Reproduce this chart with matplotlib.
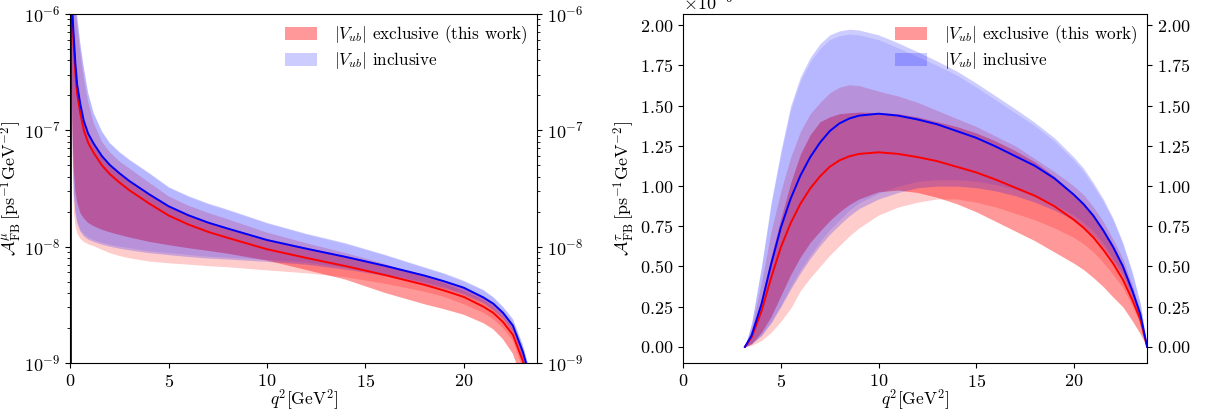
import numpy as np
import matplotlib
matplotlib.use("Agg")
import matplotlib.pyplot as plt

plt.rcParams.update({
    "font.family": "serif",
    "font.serif": ["cmr10"],
    "mathtext.fontset": "cm",
    "axes.formatter.use_mathtext": True,
    "font.size": 13,
    "axes.unicode_minus": True,
})

# ---------------- muon channel (values in 1e-9 ps^-1 GeV^-2) ----------------
q2_mu = [0.0112, 0.02, 0.05, 0.085, 0.12, 0.17, 0.25, 0.34, 0.5, 0.68, 0.9, 1.18,
         1.6, 2.0, 2.5, 3.0, 4.0, 5.0, 6.0, 7.0, 8.0, 10.0, 12.0, 14.0, 16.0, 18.0,
         19.0, 20.0, 21.0, 21.5, 22.0, 22.5, 23.0, 23.3, 23.6, 23.75]
mu_excl = [0, 4000, 2200, 1000, 720, 520, 310, 205, 140, 100, 78, 64, 50, 42, 35.5,
           30.5, 23.5, 18.5, 15.5, 13.4, 11.9, 9.5, 8.0, 6.8, 5.7, 4.7, 4.2, 3.7,
           3.05, 2.7, 2.25, 1.75, 1.05, 0.7, 0.3, 0]
mu_incl = [0, 4800, 2640, 1200, 864, 624, 372, 246, 168, 120, 93.6, 76.8, 60, 50.4,
           42.6, 36.6, 28.2, 22.2, 18.6, 16.1, 14.3, 11.4, 9.6, 8.16, 6.84, 5.64,
           5.04, 4.44, 3.66, 3.24, 2.7, 2.1, 1.26, 0.84, 0.36, 0]
mu_exA_hi = [0, 4900, 2700, 1220, 880, 635, 378, 250, 171, 122, 95, 78, 61, 51, 43.3,
             37.2, 28.7, 22.6, 18.9, 16.3, 14.5, 11.6, 9.8, 8.3, 6.95, 5.75, 5.1, 4.5,
             3.7, 3.3, 2.75, 2.13, 1.28, 0.85, 0.37, 0]
mu_exA_lo = [0, 3000, 500, 150, 80, 45, 30, 24, 19.5, 17.5, 16, 15, 14, 13.3, 12.6,
             12.0, 11.0, 10.3, 9.7, 9.2, 8.7, 7.6, 6.3, 5.2, 4.0, 3.2, 2.9, 2.6, 2.2,
             1.95, 1.6, 1.2, 0.7, 0.45, 0.18, 0]
mu_exB_hi = [0, 6600, 4100, 2480, 1820, 1320, 1100, 800, 470, 285, 175, 116, 80, 65,
             54, 47, 35.5, 27, 22.5, 19.5, 17.2, 13.2, 10.7, 8.8, 7.1, 5.5, 4.85, 4.15,
             3.45, 3.0, 2.5, 1.95, 1.2, 0.78, 0.35, 0]
mu_exB_lo = [0, 2000, 300, 90, 45, 20, 15, 13, 11.7, 11.0, 10.5, 10.1, 9.4, 8.8, 8.3,
             7.95, 7.45, 7.2, 7.0, 6.8, 6.65, 6.25, 5.9, 5.45, 4.8, 4.1, 3.7, 3.2, 2.7,
             2.38, 2.0, 1.55, 0.9, 0.6, 0.26, 0]
mu_inA_hi = [0, 8000, 5000, 3000, 2200, 1600, 1330, 960, 560, 345, 210, 141, 98, 78,
             65, 56, 43, 32.5, 27.2, 23.5, 20.8, 16.0, 12.9, 10.7, 8.5, 6.65, 5.9, 5.1,
             4.25, 3.7, 3.05, 2.4, 1.45, 0.95, 0.42, 0]
mu_inA_lo = [0, 2500, 400, 120, 60, 28, 19.5, 16, 13.5, 12.3, 11.5, 11.0, 10.4, 10.0,
             9.6, 9.3, 8.8, 8.45, 8.15, 7.9, 7.75, 7.4, 7.0, 6.35, 5.6, 4.75, 4.35, 3.85,
             3.25, 2.85, 2.4, 1.85, 1.1, 0.74, 0.32, 0]
mu_inB_hi = [0, 7900, 4900, 2950, 2170, 1580, 1310, 945, 550, 340, 207, 139, 96.5, 77,
             64, 55, 42.4, 32, 26.8, 23.1, 20.5, 15.8, 12.7, 10.5, 8.4, 6.55, 5.8, 5.0,
             4.2, 3.65, 3.0, 2.35, 1.43, 0.94, 0.41, 0]
mu_inB_lo = [0, 2600, 420, 125, 63, 29, 20.3, 16.6, 14.0, 12.8, 12.0, 11.4, 10.8, 10.4,
             10.0, 9.7, 9.15, 8.8, 8.5, 8.2, 8.05, 7.7, 7.3, 6.6, 5.8, 4.95, 4.5, 4.0,
             3.4, 2.95, 2.5, 1.9, 1.15, 0.77, 0.33, 0]

# ---------------- tau channel (values in 1e-6 ps^-1 GeV^-2) -----------------
q2_tau = [3.157, 3.5, 4.0, 4.5, 5.0, 5.5, 6.0, 6.5, 7.0, 7.5, 8.0, 8.5, 9.0, 10.0,
          11.0, 12.0, 13.0, 14.0, 15.0, 16.0, 17.0, 18.0, 19.0, 20.0, 20.5, 21.0,
          21.5, 22.0, 22.5, 23.0, 23.4, 23.75]
tau_excl = [0, 0.06, 0.22, 0.43, 0.62, 0.77, 0.89, 0.985, 1.06, 1.12, 1.16, 1.185,
            1.20, 1.21, 1.20, 1.18, 1.155, 1.12, 1.085, 1.04, 0.99, 0.94, 0.875, 0.79,
            0.74, 0.68, 0.605, 0.52, 0.42, 0.29, 0.17, 0]
tau_incl = [0, 0.072, 0.264, 0.515, 0.743, 0.922, 1.066, 1.18, 1.27, 1.342, 1.39, 1.42,
            1.438, 1.45, 1.438, 1.414, 1.384, 1.342, 1.30, 1.246, 1.186, 1.126, 1.048,
            0.946, 0.887, 0.815, 0.725, 0.623, 0.503, 0.347, 0.204, 0]
tau_exA_hi = [0, 0.08, 0.30, 0.56, 0.80, 1.02, 1.20, 1.32, 1.40, 1.43, 1.45, 1.456,
              1.46, 1.457, 1.45, 1.43, 1.40, 1.37, 1.33, 1.28, 1.22, 1.15, 1.06, 0.95,
              0.89, 0.82, 0.73, 0.63, 0.51, 0.35, 0.20, 0]
tau_exA_lo = [0, 0.02, 0.09, 0.19, 0.32, 0.45, 0.56, 0.65, 0.72, 0.785, 0.84, 0.885,
              0.92, 0.965, 0.975, 0.96, 0.93, 0.89, 0.84, 0.78, 0.72, 0.66, 0.59, 0.52,
              0.48, 0.43, 0.375, 0.31, 0.25, 0.16, 0.08, 0]
tau_exB_hi = [0, 0.12, 0.40, 0.72, 0.97, 1.18, 1.34, 1.45, 1.52, 1.58, 1.615, 1.63,
              1.625, 1.59, 1.56, 1.52, 1.47, 1.42, 1.37, 1.31, 1.25, 1.17, 1.09, 1.00,
              0.945, 0.87, 0.78, 0.67, 0.55, 0.38, 0.22, 0]
tau_exB_lo = [0, 0.01, 0.04, 0.09, 0.16, 0.24, 0.35, 0.43, 0.50, 0.57, 0.63, 0.69,
              0.74, 0.82, 0.87, 0.90, 0.92, 0.92, 0.90, 0.87, 0.83, 0.79, 0.74, 0.68,
              0.64, 0.59, 0.525, 0.45, 0.37, 0.25, 0.14, 0]
tau_inA_hi = [0, 0.15, 0.50, 0.90, 1.22, 1.50, 1.68, 1.80, 1.885, 1.94, 1.965, 1.975,
              1.97, 1.94, 1.89, 1.835, 1.777, 1.715, 1.64, 1.56, 1.48, 1.395, 1.30,
              1.18, 1.11, 1.02, 0.92, 0.80, 0.65, 0.46, 0.27, 0]
tau_inA_lo = [0, 0.02, 0.07, 0.15, 0.25, 0.36, 0.46, 0.55, 0.63, 0.70, 0.76, 0.815,
              0.86, 0.92, 0.96, 0.99, 1.00, 1.00, 0.99, 0.97, 0.94, 0.90, 0.85, 0.79,
              0.745, 0.69, 0.62, 0.53, 0.44, 0.30, 0.17, 0]
tau_inB_hi = [0, 0.148, 0.49, 0.885, 1.20, 1.475, 1.655, 1.775, 1.855, 1.91, 1.935,
              1.945, 1.94, 1.91, 1.86, 1.805, 1.75, 1.69, 1.615, 1.535, 1.455, 1.375,
              1.28, 1.16, 1.09, 1.0, 0.905, 0.79, 0.64, 0.45, 0.265, 0]
tau_inB_lo = [0, 0.021, 0.073, 0.156, 0.26, 0.375, 0.48, 0.57, 0.655, 0.73, 0.79, 0.85,
              0.895, 0.955, 1.0, 1.03, 1.04, 1.04, 1.03, 1.01, 0.98, 0.935, 0.885, 0.82,
              0.775, 0.72, 0.645, 0.55, 0.46, 0.31, 0.18, 0]

LBL_EX = r"$|V_{ub}|$ exclusive (this work)"
LBL_IN = r"$|V_{ub}|$ inclusive"


def draw(ax, q2, scale, exc, inc, exA, exB, inA, inB):
    x = np.array(q2)
    s = lambda v: np.array(v) * scale
    h1 = ax.fill_between(x, s(exA[0]), s(exA[1]), color="red", alpha=0.4, lw=0,
                         label=LBL_EX)
    ax.fill_between(x, s(exB[0]), s(exB[1]), color="red", alpha=0.2, lw=0)
    h2 = ax.fill_between(x, s(inA[0]), s(inA[1]), color="blue", alpha=0.2, lw=0,
                         label=LBL_IN)
    ax.fill_between(x, s(inB[0]), s(inB[1]), color="blue", alpha=0.1, lw=0)
    ax.plot(x, s(exc), color="red", lw=1.4)
    ax.plot(x, s(inc), color="blue", lw=1.4)
    ax.legend(handles=[h1, h2], loc="upper right", frameon=False, fontsize=12.3,
              handlelength=1.9, handleheight=0.75, handletextpad=1.0,
              labelspacing=0.25, borderaxespad=0.15)
    ax.set_xlim(0, 23.75)
    ax.set_xlabel(r"$q^2[{\rm GeV}^2]$", fontsize=12.5)
    ax.xaxis.set_label_coords(0.5, -0.07)
    ax.tick_params(which="both", right=True, labelright=True)


fig = plt.figure(figsize=(12.05, 4.17), dpi=100)
ax1 = fig.add_axes([0.0585, 0.1295, 0.3875, 0.837])
ax2 = fig.add_axes([0.567, 0.1295, 0.385, 0.837])

ax1.set_yscale("log")
draw(ax1, q2_mu, 1e-9, mu_excl, mu_incl,
     (mu_exA_lo, mu_exA_hi), (mu_exB_lo, mu_exB_hi),
     (mu_inA_lo, mu_inA_hi), (mu_inB_lo, mu_inB_hi))
ax1.set_ylim(1e-9, 1e-6)
ax1.set_ylabel(r"$\mathcal{A}_{\rm FB}^{\mu}\,[{\rm ps}^{-1}{\rm GeV}^{-2}]$",
               fontsize=13)
ax1.yaxis.set_label_coords(-0.1, 0.5)

draw(ax2, q2_tau, 1e-6, tau_excl, tau_incl,
     (tau_exA_lo, tau_exA_hi), (tau_exB_lo, tau_exB_hi),
     (tau_inA_lo, tau_inA_hi), (tau_inB_lo, tau_inB_hi))
ax2.set_ylim(-0.1e-6, 2.07e-6)
ax2.set_yticks(np.arange(0, 2.01, 0.25) * 1e-6)
ax2.set_ylabel(r"$\mathcal{A}_{\rm FB}^{\tau}\,[{\rm ps}^{-1}{\rm GeV}^{-2}]$",
               fontsize=13)
ax2.yaxis.set_label_coords(-0.1, 0.5)

fig.savefig("out.png", dpi=100)
